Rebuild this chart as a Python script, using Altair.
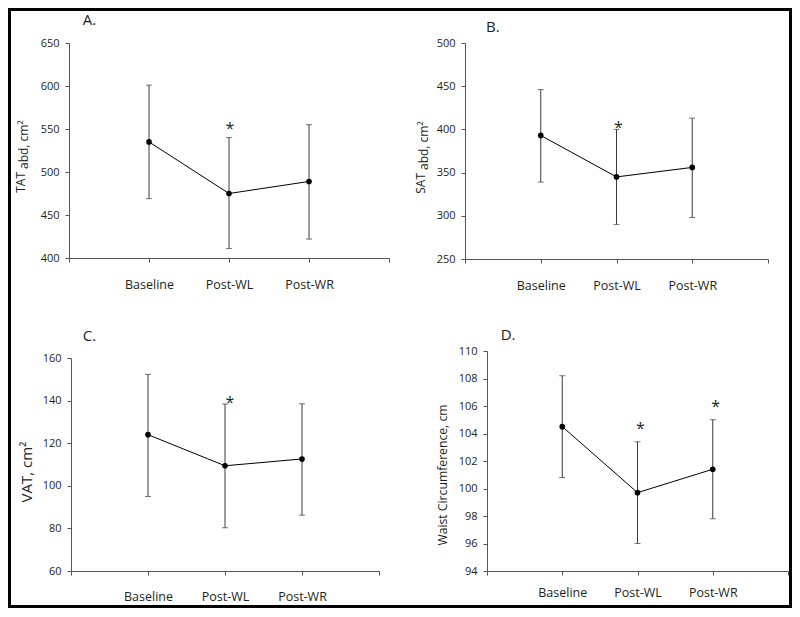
import altair as alt
import pandas as pd

# ---------------- data ----------------
categories = ["Baseline", "Post-WL", "Post-WR"]
x_slots = [" ", "Baseline", "Post-WL", "Post-WR", "  "]

tat_mean = [535, 475, 489]
tat_upper = [601, 540, 555]
tat_lower = [469, 411, 422]
tat_sig = [False, True, False]
tat_ticks = [400, 450, 500, 550, 600, 650]

sat_mean = [393, 345, 356]
sat_upper = [446, 400, 413]
sat_lower = [339, 290, 298]
sat_sig = [False, True, False]
sat_ticks = [250, 300, 350, 400, 450, 500]

vat_mean = [124, 109.4, 112.6]
vat_upper = [152.3, 138.4, 138.5]
vat_lower = [95, 80.3, 86.2]
vat_sig = [False, True, False]
vat_ticks = [60, 80, 100, 120, 140, 160]

wc_mean = [104.5, 99.7, 101.4]
wc_upper = [108.2, 103.4, 105.0]
wc_lower = [100.8, 96.0, 97.8]
wc_sig = [False, True, True]
wc_ticks = [94, 96, 98, 100, 102, 104, 106, 108, 110]

# ---------------- style / layout ----------------
FONT = "Open Sans"
INK = "#231f20"
AXIS_GRAY = "#555555"
BAR_GRAY = "#3a3a3a"
TOTAL_W = 784
TOTAL_H = 600


def one_row():
    return pd.DataFrame({"k": [0]})


def label(txt, x, y, size, align="left", angle=0, dx=0, dy=0):
    return alt.Chart(one_row()).mark_text(
        text=txt, font=FONT, fontSize=size, align=align, angle=angle,
        baseline="alphabetic", color=INK, dx=dx, dy=dy,
    ).encode(x=alt.value(x), y=alt.value(y))


def panel(mean, upper, lower, sig, ticks, xr, yr, lab_pad, star_off):
    df = pd.DataFrame({"cat": categories, "mean": mean, "upper": upper,
                       "lower": lower, "sig": sig})
    xs = alt.Scale(type="point", domain=x_slots, padding=0, range=list(xr))
    ys = alt.Scale(domain=[ticks[0], ticks[-1]], nice=False, zero=False,
                   range=[yr[1], yr[0]])
    x_axis = alt.Axis(title=None, orient="bottom", offset=yr[1] - TOTAL_H,
                      labelAngle=0, labelFontSize=12.5, labelPadding=lab_pad,
                      tickSize=4, grid=False, labelExpr="trim(datum.label)")
    y_axis = alt.Axis(title=None, orient="left", offset=-xr[0], values=ticks,
                      tickSize=4, labelPadding=6, labelFontSize=11, grid=False)
    xe = alt.X("cat:N", scale=xs, axis=x_axis)

    def ye(field):
        return alt.Y(field, type="quantitative", scale=ys, axis=y_axis)

    base = alt.Chart(df)
    bars = base.mark_rule(color=BAR_GRAY, strokeWidth=1).encode(
        x=xe, y=ye("lower"), y2="upper:Q")
    cap_hi = base.mark_tick(color=BAR_GRAY, size=6, thickness=1).encode(x=xe, y=ye("upper"))
    cap_lo = base.mark_tick(color=BAR_GRAY, size=6, thickness=1).encode(x=xe, y=ye("lower"))
    line = base.mark_line(color="black", strokeWidth=1).encode(x=xe, y=ye("mean"))
    dots = base.mark_circle(color="black", size=32, opacity=1).encode(x=xe, y=ye("mean"))
    stars = base.transform_filter("datum.sig").mark_text(
        text="*", font=FONT, fontSize=16, color=INK, baseline="alphabetic",
        dx=star_off[0], dy=star_off[1]).encode(x=xe, y=ye("upper"))
    return alt.layer(bars, cap_hi, cap_lo, line, dots, stars)


pA = panel(tat_mean, tat_upper, tat_lower, tat_sig, tat_ticks,
           (61, 381), (35, 250), 16, (1, -4))
pB = panel(sat_mean, sat_upper, sat_lower, sat_sig, sat_ticks,
           (457, 760), (35, 251), 16, (2, 4))
pC = panel(vat_mean, vat_upper, vat_lower, vat_sig, vat_ticks,
           (63, 371), (350, 563), 15, (5, 4))
pD = panel(wc_mean, wc_upper, wc_lower, wc_sig, wc_ticks,
           (479, 780), (343, 563), 11, (3, -8))

texts = [
    label("A.", 74.7, 17, 15),
    label("B.", 478, 23.7, 15),
    label("C.", 74.7, 332.5, 15),
    label("D.", 492.7, 331.5, 15),
    label("TAT", 16.5, 164, 12, align="right", angle=270),
    label("abd, cm²", 16.5, 164, 12, align="left", angle=270, dx=3, dy=3),
    label("SAT", 417, 165, 12, align="right", angle=270),
    label("abd, cm²", 417, 165, 12, align="left", angle=270, dx=3, dy=3),
    label("VAT, cm²", 24.3, 464, 15, align="center", angle=270),
    label("Waist Circumference, cm", 438.7, 467, 12.2, align="center", angle=270),
]

frame = alt.Chart(one_row()).mark_rect(
    fillOpacity=0, stroke="black", strokeWidth=3
).encode(x=alt.value(1.5), x2=alt.value(TOTAL_W - 1.5),
         y=alt.value(1.5), y2=alt.value(TOTAL_H - 1.5))

chart = alt.layer(pA, pB, pC, pD, *texts, frame).resolve_scale(
    x="independent", y="independent"
).resolve_axis(
    x="independent", y="independent"
).properties(
    width=TOTAL_W, height=TOTAL_H, padding=0,
    autosize=alt.AutoSizeParams(type="none"),
    background="white",
).configure(font=FONT).configure_view(stroke="transparent").configure_axis(
    domainColor=AXIS_GRAY, tickColor=AXIS_GRAY, labelColor=INK, labelFont=FONT,
    domainWidth=1, tickWidth=1,
)

chart.save("out.html", embed_options={"renderer": "svg", "actions": False})
